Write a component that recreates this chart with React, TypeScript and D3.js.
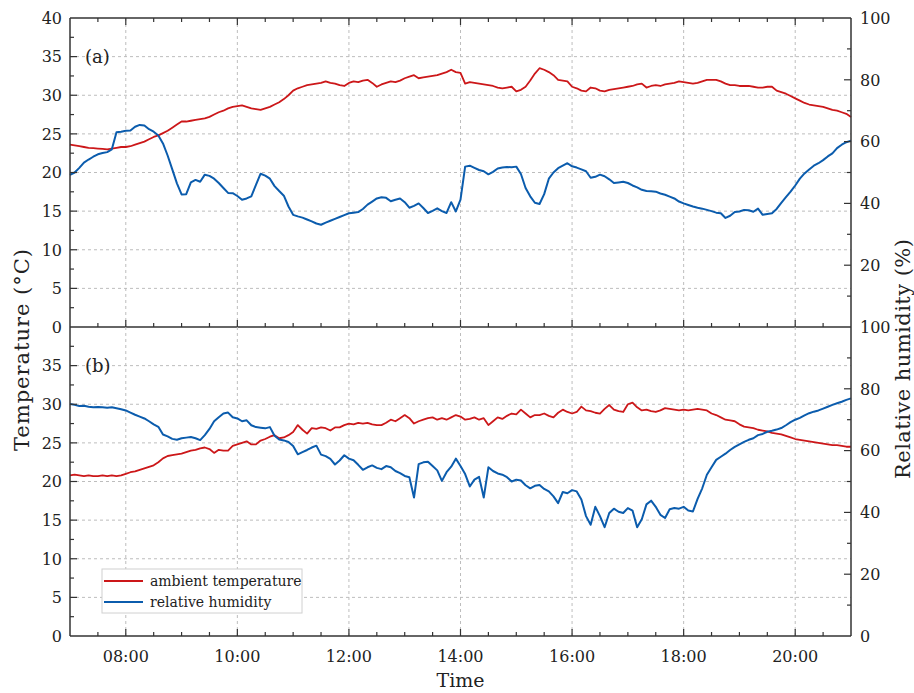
import React from "react";
import * as d3 from "d3";

// ---- data (5-minute samples from 07:00 to 21:00) ----
const START_HOUR = 7;
const STEP_MIN = 5;

// panel (a) ambient temperature, °C
const tempA = [
  23.6, 23.5, 23.4, 23.3, 23.2, 23.15, 23.1, 23.05, 23.0, 23.1, 23.2, 23.3,
  23.3, 23.4, 23.6, 23.8, 24.0, 24.3, 24.6, 24.8, 25.1, 25.4, 25.8, 26.2,
  26.6, 26.6, 26.7, 26.8, 26.9, 27.0, 27.2, 27.5, 27.8, 28.0, 28.3, 28.5,
  28.6, 28.7, 28.5, 28.3, 28.2, 28.1, 28.3, 28.5, 28.8, 29.1, 29.5, 30.0,
  30.6, 30.9, 31.1, 31.3, 31.4, 31.5, 31.6, 31.8, 31.6, 31.5, 31.3, 31.2,
  31.6, 31.8, 31.7, 31.9, 32.0, 31.6, 31.1, 31.4, 31.6, 31.8, 31.7, 31.9,
  32.2, 32.4, 32.6, 32.2, 32.3, 32.4, 32.5, 32.6, 32.8, 33.0, 33.3, 33.0,
  32.9, 31.5, 31.7, 31.6, 31.5, 31.4, 31.3, 31.2, 31.0, 30.9, 31.0, 31.1,
  30.5, 30.7, 31.1, 31.9, 32.8, 33.5, 33.3, 33.0, 32.6, 32.0, 31.9, 31.8,
  31.1, 30.9, 30.6, 30.5, 31.0, 30.9, 30.6, 30.5, 30.7, 30.8, 30.9, 31.0,
  31.1, 31.2, 31.4, 31.5, 31.0, 31.2, 31.3, 31.2, 31.4, 31.5, 31.6, 31.8,
  31.7, 31.6, 31.5, 31.6, 31.8, 32.0, 32.0, 32.0, 31.8, 31.5, 31.3, 31.3,
  31.2, 31.2, 31.2, 31.1, 31.0, 31.0, 31.1, 31.1, 30.6, 30.4, 30.2, 29.9,
  29.6, 29.3, 29.0, 28.8, 28.7, 28.6, 28.5, 28.3, 28.1, 28.0, 27.8, 27.6,
  27.2,
];

// panel (a) relative humidity, %
const rhA = [
  49.2, 50.0, 51.5, 53.2, 54.2, 55.1, 55.9, 56.3, 56.6, 57.5, 63.0, 63.2,
  63.5, 63.6, 64.8, 65.4, 65.2, 64.0, 63.2, 62.0, 59.4, 55.5, 51.0, 46.5,
  42.9, 43.0, 46.8, 47.6, 47.0, 49.3, 48.9, 48.0, 46.6, 45.0, 43.4, 43.3,
  42.4, 41.2, 41.6, 42.3, 46.0, 49.6, 49.0, 48.0, 45.6, 44.0, 42.5, 39.0,
  36.3, 35.8, 35.4, 34.8, 34.2, 33.5, 33.1, 33.8, 34.4, 35.0, 35.6, 36.2,
  36.8, 37.0, 37.2, 38.2, 39.6, 40.6, 41.6, 42.0, 41.8, 40.7, 41.2, 41.6,
  40.4, 38.6, 39.2, 40.0, 38.5, 36.9, 37.6, 38.4, 37.5, 36.9, 40.4, 37.4,
  41.2, 51.9, 52.2, 51.5, 50.8, 50.4, 49.4, 50.2, 51.3, 51.6, 51.8, 51.7,
  51.9, 49.5, 45.0, 42.3, 40.2, 39.8, 43.0, 48.0, 50.0, 51.4, 52.2, 53.0,
  52.0, 51.6, 51.0, 50.4, 48.3, 48.6, 49.3, 48.8, 47.8, 46.6, 46.8, 47.0,
  46.6, 45.8, 45.2, 44.4, 44.0, 43.9, 43.8, 43.2, 42.8, 42.2, 41.6, 40.6,
  40.0, 39.5, 39.0, 38.6, 38.3, 37.9, 37.5, 37.0, 36.8, 35.3, 36.0, 37.2,
  37.4, 37.9, 37.8, 37.3, 38.3, 36.3, 36.6, 36.8, 38.2, 40.2, 42.0, 43.8,
  45.8, 48.0, 49.7, 51.0, 52.2, 53.0, 54.0, 55.2, 56.2, 57.9, 59.0, 59.8,
  60.3,
];

// panel (b) ambient temperature, °C
const tempB = [
  20.8, 20.9, 20.8, 20.7, 20.8, 20.7, 20.7, 20.8, 20.7, 20.8, 20.7, 20.8,
  21.0, 21.2, 21.3, 21.5, 21.7, 21.9, 22.1, 22.5, 23.0, 23.3, 23.4, 23.5,
  23.6, 23.8, 24.0, 24.1, 24.3, 24.4, 24.2, 23.7, 24.1, 24.0, 24.0, 24.6,
  24.8, 25.0, 25.2, 24.8, 24.8, 25.3, 25.5, 25.8, 26.0, 25.6, 25.7, 26.0,
  26.4, 27.3, 26.7, 26.2, 26.9, 26.8, 27.0, 26.9, 26.6, 27.0, 27.0, 27.3,
  27.5, 27.4, 27.6, 27.5, 27.6, 27.4, 27.3, 27.3, 27.6, 28.0, 27.8, 28.2,
  28.6, 28.2, 27.5, 27.8, 28.0, 28.2, 28.3, 28.0, 28.2, 28.0, 28.3, 28.6,
  28.4, 28.0, 28.1, 28.3, 28.0, 28.2, 27.3, 27.8, 28.3, 28.1, 28.5, 28.8,
  28.7, 29.3, 28.8, 28.3, 28.6, 28.6, 28.8, 28.5, 28.3, 28.9, 29.3, 29.0,
  28.8, 29.0, 29.7, 29.2, 29.1, 28.9, 28.8, 29.4, 29.9, 29.3, 29.1, 29.0,
  30.0, 30.2, 29.6, 29.2, 29.3, 29.1, 29.0, 29.2, 29.5, 29.4, 29.3, 29.2,
  29.3, 29.2, 29.3, 29.4, 29.3, 29.2, 28.8, 28.6, 28.3, 28.0, 27.9, 27.8,
  27.4, 27.1, 27.0, 26.9, 26.7, 26.6, 26.5, 26.3, 26.2, 26.1, 25.9, 25.7,
  25.5, 25.4, 25.3, 25.2, 25.1, 25.0, 24.9, 24.8, 24.7, 24.7, 24.6, 24.5,
  24.5,
];

// panel (b) relative humidity, %
const rhB = [
  75.1, 74.8, 74.4, 74.5, 74.2, 74.0, 74.1, 74.0, 73.9, 74.0, 73.7, 73.4,
  73.0, 72.3, 71.6, 71.0, 70.4, 69.5, 68.5, 67.7, 65.2, 64.6, 63.8, 63.5,
  64.0, 64.2, 64.4, 64.0, 63.4, 65.0, 67.0, 69.5, 70.8, 72.0, 72.3, 70.8,
  70.4, 69.5, 69.8, 68.2, 67.6, 67.4, 67.2, 67.6, 64.8, 63.6, 63.3, 62.8,
  61.5, 58.8, 59.5, 60.2, 61.0, 61.6, 58.7, 58.2, 57.3, 55.5, 56.8, 58.5,
  57.4, 56.9, 55.4, 53.8, 54.6, 55.2, 54.4, 54.0, 55.0, 54.6, 53.4, 52.7,
  51.8, 51.4, 44.8, 55.6, 56.2, 56.4, 55.0, 53.6, 50.2, 53.0, 54.8, 57.4,
  55.0, 52.4, 48.4, 50.6, 51.5, 44.8, 54.6, 53.4, 52.6, 52.2, 51.4, 50.0,
  50.6, 50.3, 48.8, 47.8, 48.6, 48.9, 47.6, 46.8, 45.2, 43.0, 46.6, 46.2,
  47.2, 46.8, 44.2, 38.8, 36.0, 41.8, 38.8, 35.2, 39.8, 41.2, 40.2, 39.8,
  41.4, 40.6, 35.2, 37.8, 42.6, 43.8, 41.8, 39.2, 38.2, 41.0, 41.4, 41.2,
  41.8, 40.6, 40.3, 44.4, 47.8, 52.2, 54.6, 57.0, 58.0, 59.0, 60.2, 61.2,
  62.0, 62.8, 63.5, 64.0, 65.0, 65.4, 66.1, 66.4, 66.8, 67.3, 68.2, 69.2,
  70.0, 70.6, 71.4, 72.1, 72.6, 73.0, 73.6, 74.2, 74.8, 75.3, 75.8, 76.4,
  76.9,
];

const xTickHours = [8, 10, 12, 14, 16, 18, 20];
const xTickLabels = ["08:00", "10:00", "12:00", "14:00", "16:00", "18:00", "20:00"];
const tempTicks = [0, 5, 10, 15, 20, 25, 30, 35, 40];
const rhTicks = [0, 20, 40, 60, 80, 100];
const legendLabels = ["ambient temperature", "relative humidity"];
const panelLabels = ["(a)", "(b)"];

// ---- layout ----
const W = 914;
const H = 693;
const L = 70;
const R = 851;
const T = 18;
const M = 327;
const B = 636;
const RED = "#cc1719";
const BLUE = "#0b5cad";
const AXIS = "#333";
const GRID = "#bdbdbd";
const FONT = "'DejaVu Serif', serif";

const x = d3.scaleLinear().domain([7, 21]).range([L, R]);

function Panel({ top, bottom, temp, rh, label, first }) {
  const yT = d3.scaleLinear().domain([0, 40]).range([bottom, top]);
  const yH = d3.scaleLinear().domain([0, 100]).range([bottom, top]);
  const tOf = (i) => START_HOUR + (i * STEP_MIN) / 60;
  const lineT = d3.line<number>().x((_, i) => x(tOf(i))).y((d) => yT(d));
  const lineH = d3.line<number>().x((_, i) => x(tOf(i))).y((d) => yH(d));
  const halfHours = d3.range(7.5, 21, 0.5);
  const minorT = d3.range(2.5, 40, 5);
  const minorH = [10, 30, 50, 70, 90];
  const tLabels = first ? tempTicks : tempTicks.filter((v) => v < 40);
  const hLabels = first ? rhTicks.filter((v) => v > 0) : rhTicks;
  return (
    <g>
      {/* grid */}
      {tempTicks.filter((v) => v > 0 && v < 40).map((v) => (
        <line key={"gh" + v} x1={L} x2={R} y1={yT(v)} y2={yT(v)} stroke={GRID} strokeDasharray="3,3" strokeWidth={1} />
      ))}
      {xTickHours.map((h) => (
        <line key={"gv" + h} x1={x(h)} x2={x(h)} y1={top} y2={bottom} stroke={GRID} strokeDasharray="3,3" strokeWidth={1} />
      ))}
      {/* series */}
      <path d={lineT(temp) || ""} fill="none" stroke={RED} strokeWidth={1.8} strokeLinejoin="round" />
      <path d={lineH(rh) || ""} fill="none" stroke={BLUE} strokeWidth={2} strokeLinejoin="round" />
      {/* ticks */}
      {halfHours.map((h) => {
        const major = xTickHours.includes(h);
        const len = major ? 7 : 4;
        return (
          <g key={"xt" + h}>
            <line x1={x(h)} x2={x(h)} y1={bottom} y2={bottom - len} stroke={AXIS} strokeWidth={1.2} />
            {first && <line x1={x(h)} x2={x(h)} y1={top} y2={top + len} stroke={AXIS} strokeWidth={1.2} />}
          </g>
        );
      })}
      {tempTicks.filter((v) => v > 0 && v < 40).map((v) => (
        <line key={"lt" + v} x1={L} x2={L + 7} y1={yT(v)} y2={yT(v)} stroke={AXIS} strokeWidth={1.2} />
      ))}
      {minorT.map((v) => (
        <line key={"lm" + v} x1={L} x2={L + 4} y1={yT(v)} y2={yT(v)} stroke={AXIS} strokeWidth={1.2} />
      ))}
      {rhTicks.filter((v) => v > 0 && v < 100).map((v) => (
        <line key={"rt" + v} x1={R} x2={R - 7} y1={yH(v)} y2={yH(v)} stroke={AXIS} strokeWidth={1.2} />
      ))}
      {minorH.map((v) => (
        <line key={"rm" + v} x1={R} x2={R - 4} y1={yH(v)} y2={yH(v)} stroke={AXIS} strokeWidth={1.2} />
      ))}
      {/* tick labels */}
      {tLabels.map((v) => (
        <text key={"tl" + v} x={L - 8} y={yT(v)} dy="0.36em" textAnchor="end" fontSize={16} fill="#222" fontFamily={FONT}>
          {v}
        </text>
      ))}
      {hLabels.map((v) => (
        <text key={"hl" + v} x={R + 9} y={yH(v)} dy="0.36em" textAnchor="start" fontSize={16} fill="#222" fontFamily={FONT}>
          {v}
        </text>
      ))}
      <text x={L + 15} y={yT(35)} dy="0.36em" fontSize={18} fill="#222" fontFamily={FONT}>
        {label}
      </text>
      {/* frame */}
      <line x1={L} x2={L} y1={top} y2={bottom} stroke={AXIS} strokeWidth={1.5} />
      <line x1={R} x2={R} y1={top} y2={bottom} stroke={AXIS} strokeWidth={1.5} />
      <line x1={L} x2={R} y1={bottom} y2={bottom} stroke={AXIS} strokeWidth={1.5} />
      {first && <line x1={L} x2={R} y1={top} y2={top} stroke={AXIS} strokeWidth={1.5} />}
    </g>
  );
}

export default function App() {
  return (
    <svg width={W} height={H} style={{ position: "absolute", left: 0, top: 0, background: "#fff" }}>
      <rect width={W} height={H} fill="#fff" />
      <Panel top={T} bottom={M} temp={tempA} rh={rhA} label={panelLabels[0]} first={true} />
      <Panel top={M} bottom={B} temp={tempB} rh={rhB} label={panelLabels[1]} first={false} />
      {xTickHours.map((h, i) => (
        <text key={"xl" + h} x={x(h)} y={662} textAnchor="middle" fontSize={16} fill="#222" fontFamily={FONT}>
          {xTickLabels[i]}
        </text>
      ))}
      <text x={(L + R) / 2} y={687} textAnchor="middle" fontSize={19} fill="#222" fontFamily={FONT}>
        Time
      </text>
      <text transform={`translate(29,350) rotate(-90)`} textAnchor="middle" fontSize={21} fill="#222" fontFamily={FONT} textLength={202} lengthAdjust="spacing">
        Temperature (°C)
      </text>
      <text transform={`translate(910,359) rotate(-90)`} textAnchor="middle" fontSize={21} fill="#222" fontFamily={FONT} textLength={240} lengthAdjust="spacing">
        Relative humidity (%)
      </text>
      {/* legend */}
      <rect x={102} y={569} width={200} height={44} fill="#fff" stroke="#d0d0d0" strokeWidth={1} />
      <line x1={104} x2={143} y1={581} y2={581} stroke={RED} strokeWidth={1.8} />
      <line x1={104} x2={143} y1={602} y2={602} stroke={BLUE} strokeWidth={1.8} />
      <text x={150} y={581} dy="0.35em" fontSize={14} fill="#222" fontFamily={FONT}>{legendLabels[0]}</text>
      <text x={150} y={602} dy="0.35em" fontSize={14} fill="#222" fontFamily={FONT}>{legendLabels[1]}</text>
    </svg>
  );
}
